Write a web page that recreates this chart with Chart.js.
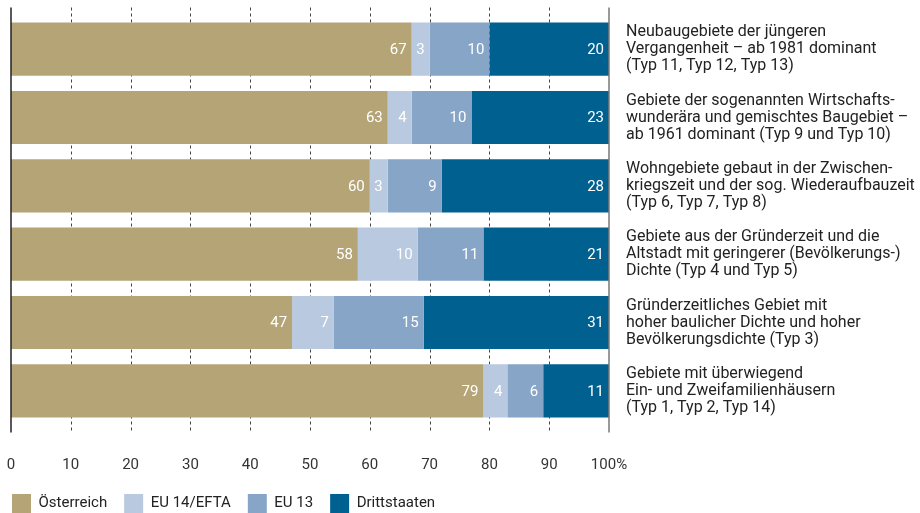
<!DOCTYPE html>
<html>
<head>
<meta charset="utf-8">
<script src="https://cdn.jsdelivr.net/npm/chart.js@4.4.1/dist/chart.umd.min.js"></script>
<style>
  html, body { margin: 0; padding: 0; background: #fff; }
</style>
</head>
<body>
<canvas id="chart" width="920" height="513"></canvas>
<script>
// ---- data ----
const categories = [
    ['Neubaugebiete der jüngeren', 'Vergangenheit – ab 1981 dominant', '(Typ 11, Typ 12, Typ 13)'],
    ['Gebiete der sogenannten Wirtschafts-', 'wunderära und gemischtes Baugebiet –', 'ab 1961 dominant (Typ 9 und Typ 10)'],
    ['Wohngebiete gebaut in der Zwischen-', 'kriegszeit und der sog. Wiederaufbauzeit', '(Typ 6, Typ 7, Typ 8)'],
    ['Gebiete aus der Gründerzeit und die', 'Altstadt mit geringerer (Bevölkerungs-)', 'Dichte (Typ 4 und Typ 5)'],
    ['Gründerzeitliches Gebiet mit', 'hoher baulicher Dichte und hoher', 'Bevölkerungsdichte (Typ 3)'],
    ['Gebiete mit überwiegend', 'Ein- und Zweifamilienhäusern', '(Typ 1, Typ 2, Typ 14)']
];

const oesterreich  = [67, 63, 60, 58, 47, 79];
const eu14Efta     = [3, 4, 3, 10, 7, 4];
const eu13         = [10, 10, 9, 11, 15, 6];
const drittstaaten = [20, 23, 28, 21, 31, 11];

const seriesNames = ['Österreich', 'EU 14/EFTA', 'EU 13', 'Drittstaaten'];
const seriesColors = ['#b5a576', '#b9c9df', '#87a5c6', '#006090'];

const FONT = 'Roboto, "DejaVu Sans", sans-serif';

// dashed grid behind bars, axis lines at 0 and 100 on top
const gridLines = {
    id: 'gridLines',
    beforeDatasetsDraw(chart) {
        const { ctx, chartArea, scales: { x } } = chart;
        ctx.save();
        ctx.strokeStyle = '#444';
        ctx.lineWidth = 1;
        ctx.setLineDash([3, 3]);
        x.ticks.forEach(t => {
            if (t.value === 0 || t.value === 100) return;
            const px = Math.round(x.getPixelForValue(t.value)) + 0.5;
            ctx.beginPath();
            ctx.moveTo(px, chartArea.top - 7.5);
            ctx.lineTo(px, chartArea.bottom + 7.5);
            ctx.stroke();
        });
        ctx.restore();
    },
    afterDatasetsDraw(chart) {
        const { ctx, chartArea, scales: { x } } = chart;
        ctx.save();
        ctx.lineWidth = 1.5;
        ctx.strokeStyle = '#222';
        let px = x.getPixelForValue(0);
        ctx.beginPath();
        ctx.moveTo(px, chartArea.top - 7.5);
        ctx.lineTo(px, chartArea.bottom + 7.5);
        ctx.stroke();
        ctx.strokeStyle = '#777';
        px = x.getPixelForValue(100);
        ctx.beginPath();
        ctx.moveTo(px, chartArea.top - 7.5);
        ctx.lineTo(px, chartArea.bottom + 7.5);
        ctx.stroke();
        ctx.restore();
    }
};

// white value labels at the right end of each segment
const segmentLabels = {
    id: 'segmentLabels',
    afterDatasetsDraw(chart) {
        const ctx = chart.ctx;
        ctx.save();
        ctx.font = '15px ' + FONT;
        ctx.fillStyle = '#fff';
        ctx.textAlign = 'right';
        ctx.textBaseline = 'middle';
        chart.data.datasets.forEach((ds, di) => {
            chart.getDatasetMeta(di).data.forEach((bar, i) => {
                ctx.fillText(ds.data[i], bar.x - 5, bar.y + 1);
            });
        });
        ctx.restore();
    }
};

// legend sits flush left under the axis
const legendPlace = {
    id: 'legendPlace',
    afterLayout(chart) {
        const lg = chart.legend;
        lg.left = 12 - lg.options.labels.padding;
        lg.top = chart.height - lg.height + 10;
    }
};

new Chart(document.getElementById('chart'), {
    type: 'bar',
    data: {
        labels: categories,
        datasets: [oesterreich, eu14Efta, eu13, drittstaaten].map((d, i) => ({
            label: seriesNames[i],
            data: d,
            backgroundColor: seriesColors[i],
            borderWidth: 0,
            categoryPercentage: 1,
            barPercentage: 0.777
        }))
    },
    options: {
        indexAxis: 'y',
        responsive: false,
        animation: false,
        layout: { padding: { top: 15, left: 11, right: 0, bottom: -12 } },
        plugins: {
            legend: {
                position: 'bottom',
                align: 'start',
                labels: {
                    boxWidth: 19,
                    boxHeight: 19,
                    padding: 17,
                    color: '#222',
                    font: { family: FONT, size: 15 }
                }
            },
            tooltip: { enabled: false }
        },
        scales: {
            x: {
                stacked: true,
                min: 0,
                max: 100,
                grid: { display: false, drawTicks: false },
                border: { display: false },
                ticks: {
                    stepSize: 10,
                    padding: 31,
                    color: '#333',
                    font: { family: FONT, size: 15 },
                    callback: v => v === 100 ? '100%' : v
                },
                afterFit(scale) {
                    scale.height = 54;
                    scale.paddingLeft = 0;
                    scale.paddingRight = 0;
                }
            },
            y: {
                stacked: true,
                position: 'right',
                grid: { display: false, drawTicks: false },
                border: { display: false },
                ticks: {
                    padding: 17,
                    color: '#222',
                    font: { family: FONT, size: 16, lineHeight: '17px' }
                },
                afterFit(scale) {
                    scale.width = 311;
                    scale.paddingTop = 0;
                    scale.paddingBottom = 0;
                }
            }
        }
    },
    plugins: [gridLines, segmentLabels, legendPlace]
});
</script>
</body>
</html>
